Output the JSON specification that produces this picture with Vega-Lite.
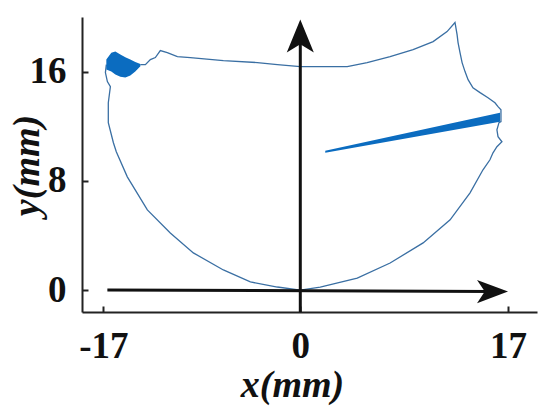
{
  "$schema": "https://vega.github.io/schema/vega-lite/v6.json",
  "width": 455,
  "height": 295,
  "autosize": "none",
  "padding": {"left": 82, "top": 17, "right": 13, "bottom": 94},
  "background": "white",
  "config": {
    "view": {"stroke": null},
    "axis": {
      "domainColor": "#222222",
      "domainWidth": 2,
      "tickColor": "#222222",
      "tickWidth": 2,
      "tickSize": -6,
      "grid": false,
      "labelFont": "Times New Roman, Liberation Serif, serif",
      "labelFontWeight": "bold",
      "labelFontSize": 37,
      "labelColor": "#111111",
      "labelFlush": false,
      "labelOverlap": false,
      "titleFont": "Times New Roman, Liberation Serif, serif",
      "titleFontStyle": "italic",
      "titleFontWeight": "bold",
      "titleFontSize": 38,
      "titleColor": "#111111"
    }
  },
  "encoding": {
    "x": {
      "field": "x",
      "type": "quantitative",
      "scale": {"domain": [-18.84, 0, 19.37], "range": [0, 218.3, 455], "nice": false, "zero": false},
      "axis": {"values": [-17, 0, 17], "title": "x(mm)", "labelExpr": "datum.value < 0 ? '-' + abs(datum.value) : datum.label", "labelPadding": 22, "titleX": 210, "titleY": 84, "titleBaseline": "alphabetic", "titleAlign": "center"}
    },
    "y": {
      "field": "y",
      "type": "quantitative",
      "scale": {"domain": [-1.61, 20.0], "nice": false, "zero": false},
      "axis": {"values": [0, 8, 16], "title": "y(mm)", "labelPadding": 22, "titleX": -44, "titleY": 148, "titleAngle": 270, "titleBaseline": "alphabetic", "titleAlign": "center"}
    }
  },
  "layer": [
    {
      "data": {"values": [
        {"i": 1, "x": -13.80, "y": 16.51}, {"i": 2, "x": -13.37, "y": 16.51}, {"i": 3, "x": -12.94, "y": 16.88},
        {"i": 4, "x": -12.51, "y": 17.03}, {"i": 5, "x": -12.08, "y": 17.54}, {"i": 6, "x": -11.48, "y": 17.39},
        {"i": 7, "x": -10.61, "y": 17.10}, {"i": 8, "x": -9.49, "y": 17.03}, {"i": 9, "x": -6.64, "y": 16.81},
        {"i": 10, "x": -3.71, "y": 16.66}, {"i": 11, "x": -1.98, "y": 16.51}, {"i": 12, "x": 0.0, "y": 16.37},
        {"i": 13, "x": 3.84, "y": 16.37}, {"i": 14, "x": 5.47, "y": 16.66}, {"i": 15, "x": 7.35, "y": 17.10},
        {"i": 16, "x": 9.23, "y": 17.61}, {"i": 17, "x": 10.87, "y": 18.20}, {"i": 18, "x": 12.01, "y": 18.93},
        {"i": 19, "x": 12.66, "y": 19.60}, {"i": 20, "x": 12.83, "y": 18.71}, {"i": 21, "x": 12.91, "y": 18.13},
        {"i": 22, "x": 13.07, "y": 17.39}, {"i": 23, "x": 13.24, "y": 16.66}, {"i": 24, "x": 13.48, "y": 16.00},
        {"i": 25, "x": 13.73, "y": 15.41}, {"i": 26, "x": 14.13, "y": 14.82}, {"i": 27, "x": 14.71, "y": 14.46},
        {"i": 28, "x": 15.36, "y": 14.09}, {"i": 29, "x": 15.93, "y": 13.72}, {"i": 30, "x": 16.18, "y": 13.43},
        {"i": 31, "x": 16.42, "y": 13.21}, {"i": 32, "x": 16.42, "y": 12.33}, {"i": 33, "x": 16.26, "y": 12.26},
        {"i": 34, "x": 16.09, "y": 11.74}, {"i": 35, "x": 16.18, "y": 11.23}, {"i": 36, "x": 16.50, "y": 10.86},
        {"i": 37, "x": 16.09, "y": 10.50}, {"i": 38, "x": 15.77, "y": 10.05}, {"i": 39, "x": 15.52, "y": 9.54},
        {"i": 40, "x": 14.95, "y": 8.81}, {"i": 41, "x": 13.89, "y": 7.12}, {"i": 42, "x": 12.26, "y": 5.14},
        {"i": 43, "x": 10.05, "y": 3.45}, {"i": 44, "x": 7.35, "y": 1.98}, {"i": 45, "x": 4.66, "y": 0.88},
        {"i": 46, "x": 1.63, "y": 0.22}, {"i": 47, "x": 0.0, "y": 0.0}, {"i": 48, "x": -1.98, "y": 0.22},
        {"i": 49, "x": -4.31, "y": 0.59}, {"i": 50, "x": -6.64, "y": 1.47}, {"i": 51, "x": -9.23, "y": 2.72},
        {"i": 52, "x": -11.22, "y": 4.18}, {"i": 53, "x": -13.20, "y": 5.87}, {"i": 54, "x": -14.93, "y": 8.29},
        {"i": 55, "x": -15.88, "y": 10.13}, {"i": 56, "x": -16.13, "y": 10.79}, {"i": 57, "x": -16.57, "y": 12.26},
        {"i": 58, "x": -16.57, "y": 13.72}, {"i": 59, "x": -16.39, "y": 14.90}, {"i": 60, "x": -16.65, "y": 15.27},
        {"i": 61, "x": -16.82, "y": 15.93}, {"i": 62, "x": -16.74, "y": 16.51}
      ]},
      "mark": {"type": "line", "color": "#3a6fa3", "strokeWidth": 1.3},
      "encoding": {"order": {"field": "i", "type": "quantitative"}}
    },
    {
      "data": {"values": [
        {"x": -16.74, "y": 16.88, "y2": 16.15}, {"x": -16.31, "y": 17.39, "y2": 16.00},
        {"x": -15.96, "y": 17.47, "y2": 15.78}, {"x": -15.53, "y": 17.25, "y2": 15.63},
        {"x": -15.10, "y": 17.06, "y2": 15.56}, {"x": -14.67, "y": 16.88, "y2": 15.71},
        {"x": -14.24, "y": 16.70, "y2": 16.00}, {"x": -13.80, "y": 16.55, "y2": 16.40}
      ]},
      "mark": {"type": "area", "color": "#0b6cc0", "opacity": 1},
      "encoding": {"y2": {"field": "y2"}}
    },
    {
      "data": {"values": [
        {"x": 2.04, "y": 10.20, "y2": 10.05}, {"x": 16.34, "y": 12.99, "y2": 12.33}
      ]},
      "mark": {"type": "area", "color": "#0b6cc0", "opacity": 1},
      "encoding": {"y2": {"field": "y2"}}
    },
    {
      "data": {"values": [
        {"g": "v", "x": 0.0, "y": -1.61}, {"g": "v", "x": 0.0, "y": 18.3},
        {"g": "h", "x": -16.65, "y": 0.0}, {"g": "h", "x": 15.6, "y": -0.1}
      ]},
      "mark": {"type": "line", "color": "#111111", "strokeWidth": 3},
      "encoding": {"detail": {"field": "g", "type": "nominal"}}
    },
    {
      "data": {"values": [{"x": 0.0, "y": 18.6}]},
      "mark": {"type": "point", "shape": "M0,-1L0.82,1L0,0.5L-0.82,1Z", "size": 1089, "filled": true, "color": "#111111", "opacity": 1, "strokeWidth": 0}
    },
    {
      "data": {"values": [{"x": 15.73, "y": -0.11}]},
      "mark": {"type": "point", "shape": "M1,0L-1,0.75L-0.5,0L-1,-0.75Z", "size": 961, "filled": true, "color": "#111111", "opacity": 1, "strokeWidth": 0}
    }
  ]
}
